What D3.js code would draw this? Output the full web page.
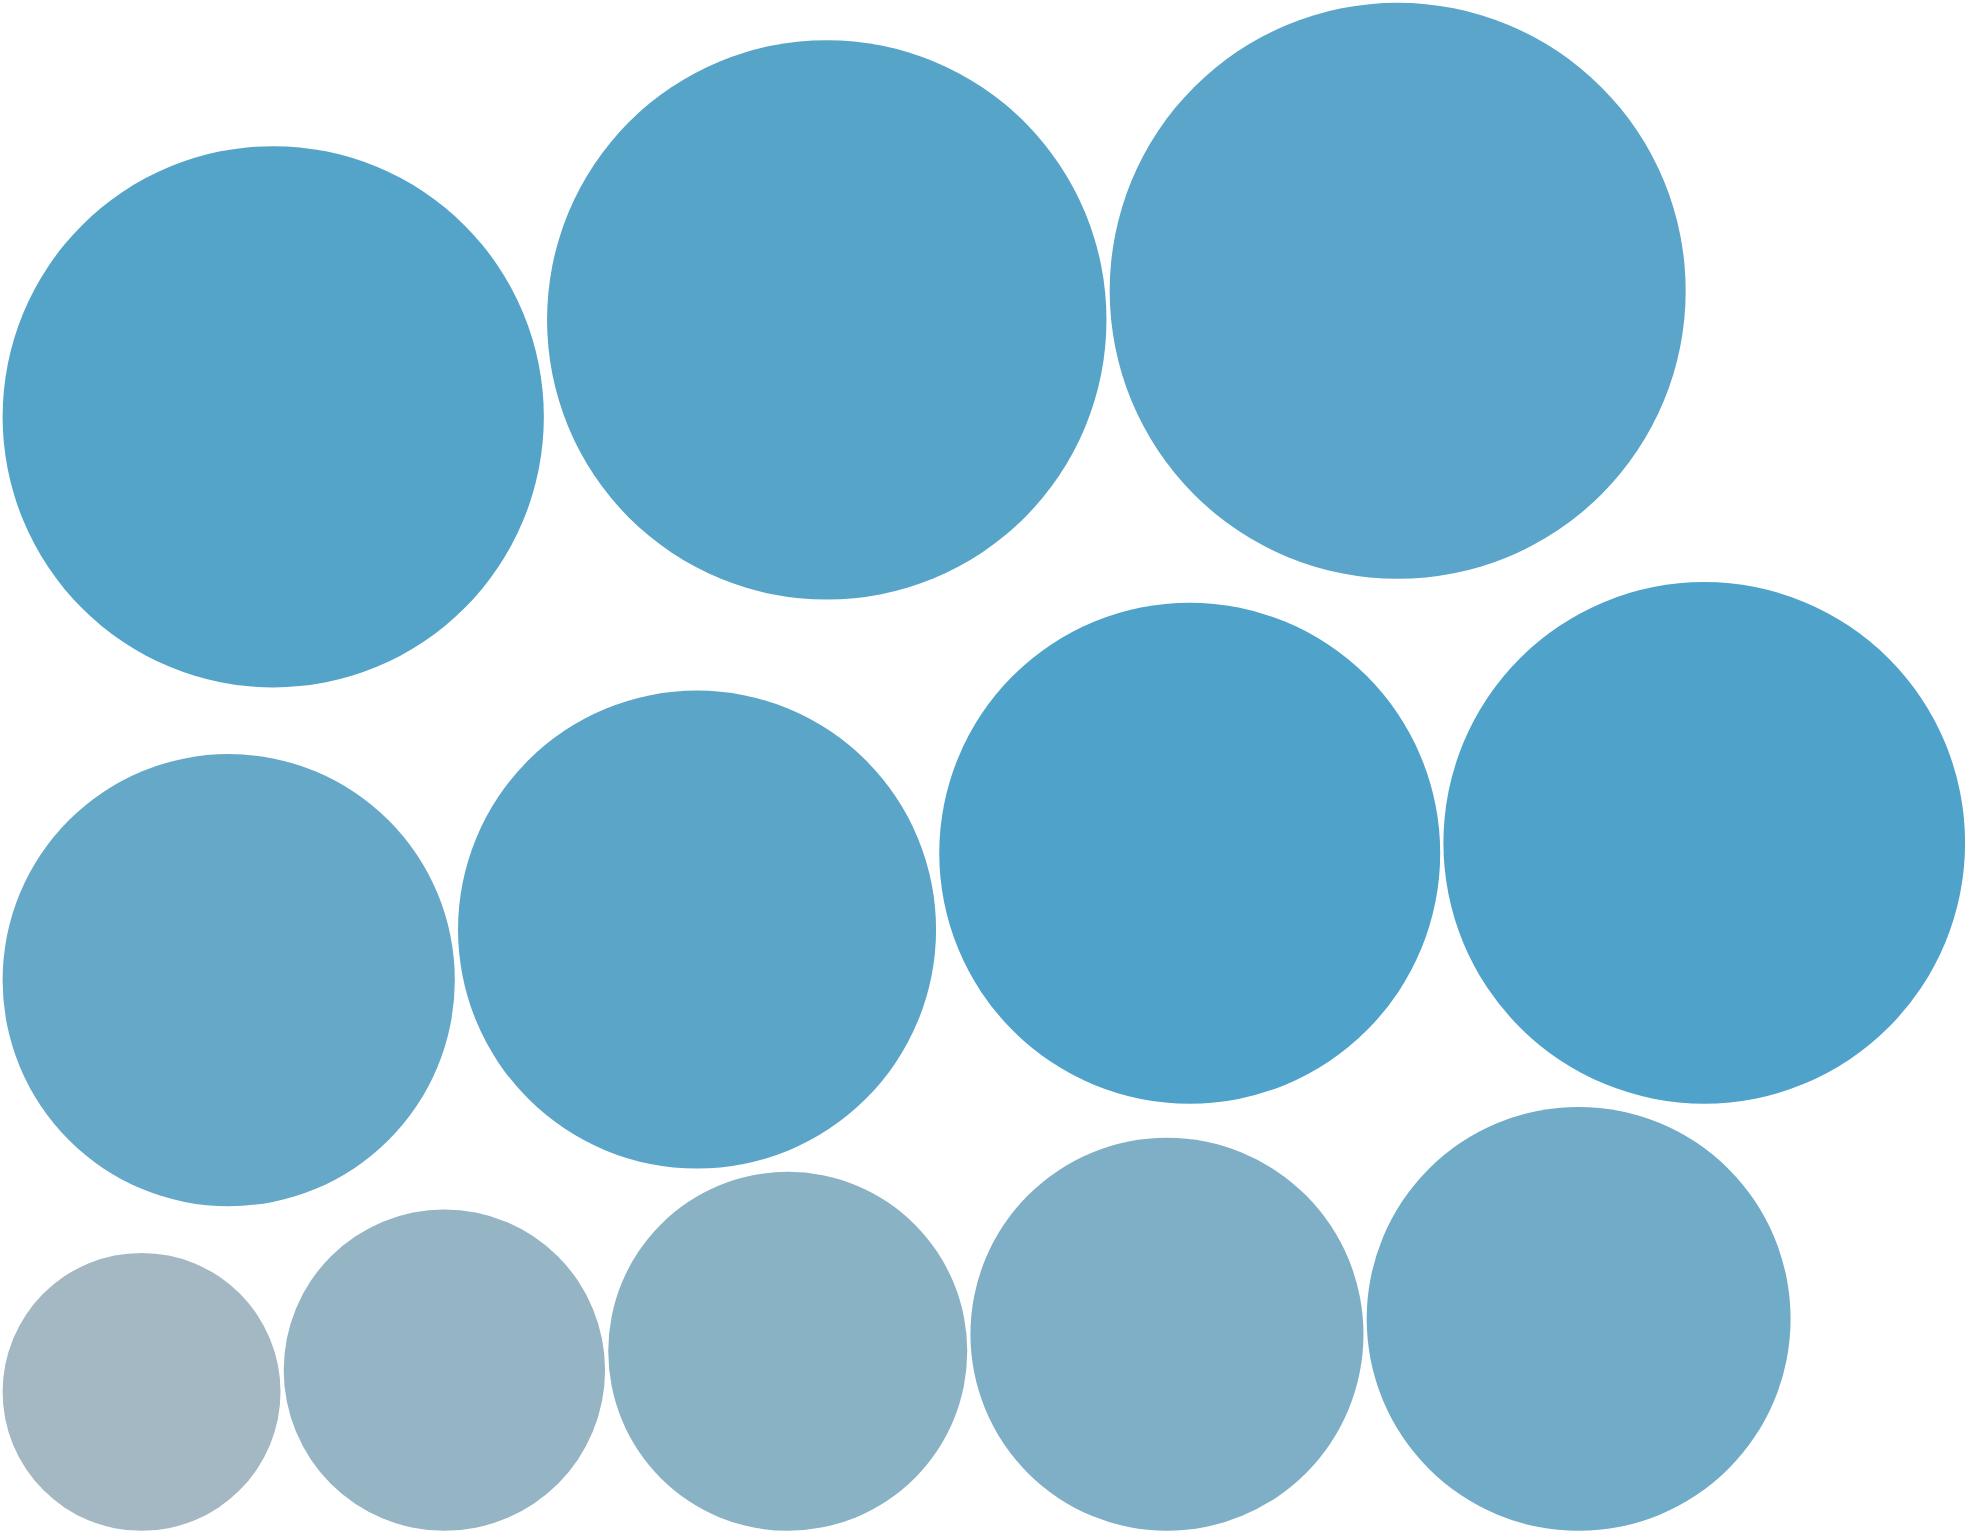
<!DOCTYPE html>
<html>
<head>
<meta charset="utf-8">
<script src="https://cdn.jsdelivr.net/npm/d3@7"></script>
<style>
  html, body { margin: 0; padding: 0; background: #ffffff; }
  svg { display: block; }
</style>
</head>
<body>
<div id="chart"></div>
<script>
// ---- data (ordered from smallest to largest, as laid out) ----
const categories = ["A", "B", "C", "D", "E", "F", "G", "H", "I", "J", "K", "L"];
const sizeValues = [193, 258, 322, 386, 449, 511, 571, 627, 680, 732, 782, 829];
const colorValues = [0, 16, 29, 43, 60, 72, 85, 99, 99, 93, 90, 86];

// ---- layout ----
const W = 1967, H = 1533;
const pad = 3.2, marginL = 2.6, marginB = 2.2;

const rScale = d3.scaleSqrt().domain([0, d3.max(sizeValues)]).range([0, 288]);
const color = d3.scaleLinear().domain([0, 100]).range(["#a3b8c3", "#4ea2ca"]).interpolate(d3.interpolateRgb);

const nodes = categories.map((c, i) => ({ name: c, value: sizeValues[i], cv: colorValues[i], r: rScale(sizeValues[i]) }));

// flow rows left-to-right, wrapping at the chart width
const rows = [];
let cur = [], x = marginL;
nodes.forEach(n => {
  const d = 2 * n.r;
  if (cur.length && x + d > W) { rows.push(cur); cur = []; x = marginL; }
  n.cx = x + n.r;
  x += d + pad;
  cur.push(n);
});
if (cur.length) rows.push(cur);

// stack rows bottom-up: each bubble rests just above the bubbles below it
rows.forEach((row, ri) => {
  row.forEach(n => {
    let bottom;
    if (ri === 0) bottom = H - marginB;
    else {
      const lo = n.cx - n.r, hi = n.cx + n.r;
      const below = rows[ri - 1].filter(m => (m.cx + m.r) > lo && (m.cx - m.r) < hi);
      bottom = d3.min(below, m => m.cy - m.r) - pad;
    }
    n.cy = bottom - n.r;
  });
});

const svg = d3.select("#chart").append("svg").attr("width", W).attr("height", H);

svg.append("g").selectAll("circle")
  .data(nodes)
  .join("circle")
  .attr("cx", d => d.cx)
  .attr("cy", d => d.cy)
  .attr("r", d => d.r)
  .attr("fill", d => color(d.cv));
</script>
</body>
</html>
